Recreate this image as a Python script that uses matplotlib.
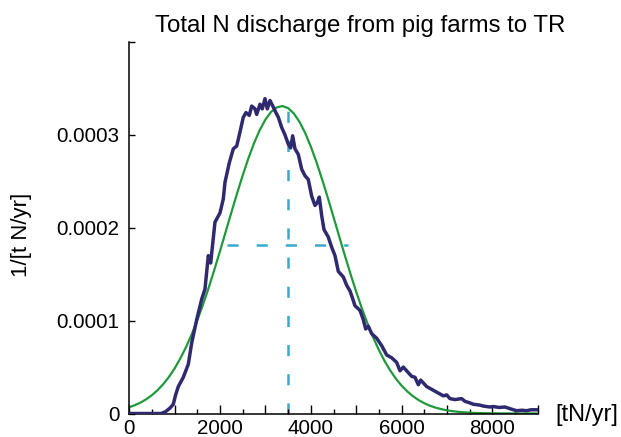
import numpy as np
import matplotlib
matplotlib.use("Agg")
import matplotlib.pyplot as plt
from matplotlib.ticker import FixedLocator, FixedFormatter

plt.rcParams['font.family'] = ['Liberation Sans', 'DejaVu Sans']
plt.rcParams['lines.scale_dashes'] = False

# ---------------- data (density values in units of 1e-4 per t N/yr) ----------------
sim_x = [0, 700, 800, 900, 970, 1020, 1080, 1190, 1300, 1375, 1485, 1595, 1668, 1741,
         1793, 1888, 1999, 2071, 2109, 2204, 2292, 2367, 2439, 2512, 2571, 2644, 2697,
         2770, 2807, 2880, 2931, 2990, 3041, 3101, 3173, 3230, 3284, 3358, 3431, 3504,
         3556, 3600, 3651, 3724, 3799, 3872, 3944, 4019, 4092, 4143, 4187, 4240, 4291,
         4385, 4460, 4533, 4606, 4716, 4791, 4863, 4920, 4974, 5084, 5157, 5209, 5267,
         5341, 5452, 5562, 5672, 5782, 5892, 5965, 6038, 6130, 6223, 6296, 6369, 6421,
         6553, 6664, 6736, 6884, 6920, 6994, 7067, 7177, 7324, 7400, 7470, 7580, 7728,
         7800, 7948, 8021, 8150, 8279, 8400, 8537, 8650, 8757, 8850, 8978, 9000]
sim_y = [0, 0, 0.02, 0.06, 0.10, 0.20, 0.29, 0.39, 0.53, 0.76, 1.01, 1.23, 1.34, 1.70,
         1.62, 2.06, 2.16, 2.31, 2.49, 2.70, 2.85, 2.88, 3.03, 3.19, 3.24, 3.21, 3.31,
         3.28, 3.22, 3.33, 3.28, 3.39, 3.28, 3.37, 3.30, 3.24, 3.19, 3.08, 3.00, 2.90,
         2.86, 2.99, 2.85, 2.79, 2.63, 2.56, 2.52, 2.34, 2.24, 2.27, 2.33, 2.13, 1.98,
         1.90, 1.79, 1.70, 1.53, 1.47, 1.38, 1.32, 1.24, 1.16, 1.11, 1.01, 0.91, 0.94,
         0.86, 0.81, 0.73, 0.63, 0.60, 0.55, 0.46, 0.50, 0.45, 0.40, 0.39, 0.31, 0.36,
         0.29, 0.26, 0.24, 0.20, 0.19, 0.20, 0.16, 0.15, 0.16, 0.13, 0.12, 0.10, 0.09,
         0.08, 0.07, 0.075, 0.065, 0.07, 0.05, 0.03, 0.035, 0.03, 0.04, 0.04, 0.04]

fit_x = [0, 125, 250, 375, 500, 625, 750, 875, 1000, 1125, 1250, 1375, 1500, 1625,
         1750, 1875, 2000, 2125, 2250, 2375, 2500, 2625, 2750, 2875, 3000, 3125, 3250,
         3375, 3500, 3625, 3750, 3875, 4000, 4125, 4250, 4375, 4500, 4625, 4750, 4875,
         5000, 5125, 5250, 5375, 5500, 5625, 5750, 5875, 6000, 6125, 6250, 6375, 6500,
         6625, 6750, 6875, 7000, 7125, 7250, 7375, 7500, 7625, 7750, 7875, 8000, 8125,
         8250, 8375, 8500, 8750, 9000]
fit_y = [0.068, 0.090, 0.118, 0.154, 0.198, 0.252, 0.317, 0.395, 0.486, 0.593, 0.715,
         0.852, 1.006, 1.174, 1.355, 1.549, 1.751, 1.958, 2.166, 2.370, 2.565, 2.748,
         2.912, 3.052, 3.165, 3.248, 3.296, 3.310, 3.288, 3.231, 3.141, 3.021, 2.874,
         2.706, 2.519, 2.322, 2.116, 1.908, 1.701, 1.502, 1.311, 1.132, 0.967, 0.818,
         0.684, 0.566, 0.463, 0.375, 0.300, 0.238, 0.187, 0.145, 0.111, 0.084, 0.063,
         0.047, 0.034, 0.025, 0.018, 0.013, 0.009, 0.006, 0.004, 0.003, 0.002, 0.0015,
         0.001, 0.0007, 0.0, 0.0, 0.0]

mean_x = 3500
mean_top = 3.26
spread_y = 1.81
spread_x = [2150, 4830]

scale = 1e-4

x_major = [0, 1000, 2000, 3000, 4000, 5000, 6000, 7000, 8000, 9000]
x_labels = ['0', '', '2000', '', '4000', '', '6000', '', '8000', '']
x_minor = [500, 1500, 2500, 3500, 4500, 5500, 6500, 7500, 8500]
y_ticks = [0, 1e-4, 2e-4, 3e-4, 4e-4]
y_labels = ['0', '0.0001', '0.0002', '0.0003', '']

# ---------------- figure ----------------
fig = plt.figure(figsize=(6.21, 4.37), dpi=100)
L, R, B, T = 129.3, 537.7, 413.5, 42.0
ax = fig.add_axes([L / 621, (437 - B) / 437, (R - L) / 621, (B - T) / 437])

purple = '#2f2a6f'
green = '#20993c'
cyan = '#3ba9cb'

ax.plot(np.array(fit_x), np.array(fit_y) * scale, color=green, lw=1.6, zorder=2,
        solid_joinstyle='round')
ax.plot(np.array(sim_x), np.array(sim_y) * scale, color=purple, lw=2.5, zorder=3,
        solid_joinstyle='round')
ax.plot([mean_x, mean_x], [0, mean_top * scale], color=cyan, lw=1.8,
        dashes=(8, 13), zorder=1)
ax.plot(spread_x, [spread_y * scale, spread_y * scale], color=cyan, lw=1.8,
        dashes=(8, 13), zorder=1)

ax.set_xlim(0, 9000)
ax.set_ylim(0, 4e-4)

for s in ['top', 'right']:
    ax.spines[s].set_visible(False)
for s in ['left', 'bottom']:
    ax.spines[s].set_linewidth(1.1)
    ax.spines[s].set_color('black')

ax.xaxis.set_major_locator(FixedLocator(x_major))
ax.xaxis.set_major_formatter(FixedFormatter(x_labels))
ax.xaxis.set_minor_locator(FixedLocator(x_minor))
ax.yaxis.set_major_locator(FixedLocator(y_ticks))
ax.yaxis.set_major_formatter(FixedFormatter(y_labels))

ax.tick_params(axis='x', which='major', direction='in', length=6.5, width=1.0,
               labelsize=14.8, pad=4)
ax.tick_params(axis='x', which='minor', direction='in', length=3.5, width=1.0)
ax.tick_params(axis='y', which='major', direction='in', length=4.5, width=1.0,
               labelsize=14.8, pad=7)

fig.text(360 / 621, 1 - 32 / 437, 'Total N discharge from pig farms to TR',
         ha='center', va='baseline', fontsize=17.3)
fig.text(555 / 621, 1 - 421.5 / 437, '[tN/yr]', ha='left', va='baseline', fontsize=17)
fig.text(22 / 621, 1 - 235 / 437, '1/[t N/yr]', rotation=90, ha='center', va='center',
         fontsize=16)

fig.savefig('out.png', dpi=100)
